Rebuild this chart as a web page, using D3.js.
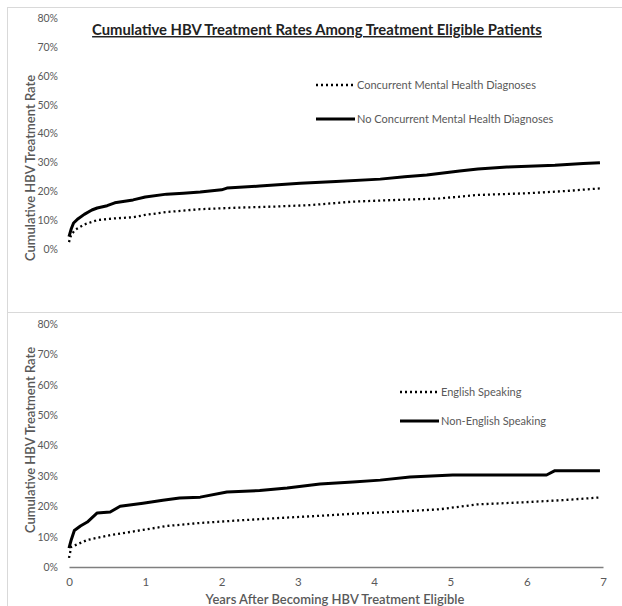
<!DOCTYPE html>
<html><head><meta charset="utf-8">
<script src="https://cdn.jsdelivr.net/npm/d3@7"></script>
<style>body{margin:0;background:#fff}svg{display:block;font-family:Lato,"Open Sans",sans-serif}</style>
</head><body><svg id="c" width="622" height="606"></svg>
<script>
const titleText = "Cumulative HBV Treatment Rates Among Treatment Eligible Patients";
const yTitle = "Cumulative HBV Treatment Rate";
const xTitle = "Years After Becoming HBV Treatment Eligible";
const yTicks = [0,10,20,30,40,50,60,70,80];
const xTicks = [0,1,2,3,4,5,6,7];

// Top panel: mental health
const mhNames = ["Concurrent Mental Health Diagnoses","No Concurrent Mental Health Diagnoses"];
const mhYesT = [0,0.03,0.08,0.2,0.37,0.6,0.84,1.0,1.28,1.5,1.72,2.2,2.7,3.16,3.72,4.3,4.86,5.35,6.0,6.53,6.96];
const mhYesV = [2.4,5,6.6,8.5,10,10.6,11,11.8,12.8,13.3,13.8,14.3,14.7,15.2,16.4,17,17.5,18.7,19.3,20.1,21];
const mhNoT = [0,0.03,0.06,0.12,0.2,0.3,0.37,0.5,0.6,0.84,1.0,1.28,1.5,1.72,2.0,2.07,2.5,3.03,3.5,4.08,4.4,4.69,5.12,5.36,5.74,6.37,6.74,6.96];
const mhNoV = [4.3,7,9,10.5,12,13.5,14.2,15,16,17,18,19,19.3,19.7,20.5,21.1,21.8,22.8,23.4,24.2,25,25.6,27,27.7,28.4,29,29.6,29.9];

// Bottom panel: language
const lgNames = ["English Speaking","Non-English Speaking"];
const engT = [0,0.03,0.24,0.54,0.97,1.28,1.72,2.2,2.73,3.25,3.77,4.3,4.86,5.35,5.95,6.47,6.96];
const engV = [3,6.6,8.9,10.5,12.2,13.5,14.5,15.3,16.1,16.8,17.6,18.2,19,20.6,21.3,22,22.9];
const nonT = [0,0.03,0.07,0.15,0.24,0.37,0.54,0.67,0.97,1.23,1.45,1.72,2.07,2.5,2.86,3.29,3.72,4.08,4.47,5.03,6.26,6.37,6.96];
const nonV = [6.2,9,12,13.5,14.8,17.8,18.1,20,21,22,22.7,23,24.7,25.2,26,27.3,28,28.6,29.6,30.3,30.3,31.7,31.7];

const svg = d3.select("#c");
const grey = "#595959";

// panel frames
svg.append("line").attr("x1",7.5).attr("x2",7.5).attr("y1",7).attr("y2",606).attr("stroke","#d9d9d9");
svg.append("line").attr("x1",7).attr("x2",622).attr("y1",7.5).attr("y2",7.5).attr("stroke","#d9d9d9");
svg.append("line").attr("x1",7).attr("x2",622).attr("y1",312.5).attr("y2",312.5).attr("stroke","#d9d9d9");

const x = d3.scaleLinear().domain([0,7]).range([69,603]);

function panel(y0, y80, tA, vA, tB, vB, names, legX, legY1, legY2, withX, titleY){
  const y = d3.scaleLinear().domain([0,80]).range([y0,y80]);
  const ax = svg.append("g").attr("transform","translate(69,0)")
    .call(d3.axisLeft(y).tickValues(yTicks).tickSize(0).tickPadding(11).tickFormat(d=>d+"%"));
  ax.select(".domain").remove();
  ax.selectAll("text").attr("fill",grey).style("font-size","10.5px").style("font-family","Lato,sans-serif");
  svg.append("text").attr("transform",`translate(34.5,${titleY}) rotate(-90)`)
    .attr("text-anchor","middle").attr("fill",grey).style("font-size","13px").style("font-weight","600")
    .text(yTitle);
  if(withX){
    const xa = svg.append("g").attr("transform",`translate(0,${y0})`)
      .call(d3.axisBottom(x).tickValues(xTicks).tickSize(0).tickPadding(11).tickFormat(d3.format("d")));
    xa.select(".domain").attr("stroke","#7f7f7f").attr("stroke-width",1.5);
    xa.selectAll("text").attr("fill",grey).style("font-size","11.5px").style("font-family","Lato,sans-serif");
  }
  const line = d3.line().x(d=>x(d[0])).y(d=>y(d[1]));
  const dA = tA.map((t,i)=>[t,vA[i]]);
  const dB = tB.map((t,i)=>[t,vB[i]]);
  svg.append("path").attr("d",line(dA)).attr("fill","none").attr("stroke","#000")
    .attr("stroke-width",2.3).attr("stroke-dasharray","2 3");
  svg.append("path").attr("d",line(dB)).attr("fill","none").attr("stroke","#000")
    .attr("stroke-width",3).attr("stroke-linejoin","round");
  // legend
  svg.append("line").attr("x1",legX).attr("x2",legX+38).attr("y1",legY1).attr("y2",legY1)
    .attr("stroke","#000").attr("stroke-width",2.3).attr("stroke-dasharray","2 3");
  svg.append("line").attr("x1",legX).attr("x2",legX+39).attr("y1",legY2).attr("y2",legY2)
    .attr("stroke","#000").attr("stroke-width",3);
  svg.append("text").attr("x",legX+41).attr("y",legY1).attr("dy","0.35em").attr("fill",grey)
    .style("font-size","11px").text(names[0]);
  svg.append("text").attr("x",legX+41).attr("y",legY2).attr("dy","0.35em").attr("fill",grey)
    .style("font-size","11px").text(names[1]);
}

panel(249,18, mhYesT,mhYesV, mhNoT,mhNoV, mhNames, 316, 85, 119, false, 168);
panel(567,324, engT,engV, nonT,nonV, lgNames, 400, 392, 421, true, 440);

// title
svg.append("text").attr("x",317).attr("y",35).attr("text-anchor","middle").attr("fill","#222")
  .style("font-size","14.8px").style("font-weight","bold").style("text-decoration","underline")
  .text(titleText);
// x title
svg.append("text").attr("x",335).attr("y",604).attr("text-anchor","middle").attr("fill",grey)
  .style("font-size","13px").style("font-weight","600").text(xTitle);
</script></body></html>
